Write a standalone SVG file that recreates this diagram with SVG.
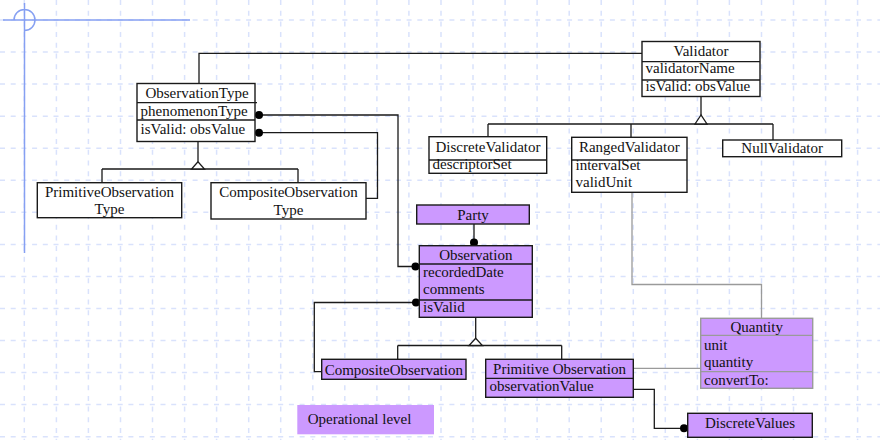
<svg xmlns="http://www.w3.org/2000/svg" width="880" height="440" viewBox="0 0 880 440">
  <style>
    .grid { fill: none; stroke: #d9e2fc; stroke-width: 1.5; stroke-dasharray: 5 5.7; }
    .guide { fill: none; stroke: #86a0f2; stroke-width: 1.5; }
    .box { fill: #ffffff; stroke: #1a1a1a; stroke-width: 1.4; }
    .op { fill: #cc99ff; stroke: #1a1a1a; stroke-width: 1.4; }
    .qty { fill: #cc99ff; stroke: #9a9a9a; stroke-width: 1.4; }
    .div { stroke: #1a1a1a; stroke-width: 1.3; }
    .divq { stroke: #9a9a9a; stroke-width: 1.3; }
    .link { fill: none; stroke: #1a1a1a; stroke-width: 1.3; }
    .glink { fill: none; stroke: #9a9a9a; stroke-width: 1.3; }
    .gen { fill: #ffffff; stroke: #1a1a1a; stroke-width: 1.3; }
    .dot { fill: #000000; }
    text { font-family: "Liberation Serif", "Times New Roman", serif; font-size: 15px; fill: #111111; }
    .c { text-anchor: middle; }
  </style>

  <!-- background grid -->
  <rect x="0" y="0" width="880" height="440" fill="#ffffff"/>
  <path class="grid" d="M24.3,0V440 M56.4,0V440 M88.4,0V440 M120.5,0V440 M152.5,0V440 M184.6,0V440 M216.6,0V440 M248.7,0V440 M280.7,0V440 M312.8,0V440 M344.8,0V440 M376.9,0V440 M408.9,0V440 M441,0V440 M473,0V440 M505.1,0V440 M537.1,0V440 M569.2,0V440 M601.2,0V440 M633.3,0V440 M665.3,0V440 M697.4,0V440 M729.4,0V440 M761.5,0V440 M793.5,0V440 M825.6,0V440 M857.6,0V440"/>
  <path class="grid" d="M0,20H880 M0,52.1H880 M0,84.1H880 M0,116.2H880 M0,148.2H880 M0,180.3H880 M0,212.3H880 M0,244.4H880 M0,276.4H880 M0,308.5H880 M0,340.5H880 M0,372.6H880 M0,404.6H880 M0,436.7H880"/>

  <!-- page guides -->
  <path class="guide" d="M3,20H190 M24.5,3V253 M14,20A10.5,10.5 0 1 1 24.5,30.5"/>

  <!-- connectors -->
  <g id="connectors">
    <path class="link" d="M199,83.5V53.3H642"/>
    <path class="link" d="M701,96.5V115 M488,124H773 M488,124V136.7 M631,124V137.3 M773,124V140"/>
    <polygon class="gen" points="701,115 695,124 707,124"/>
    <path class="link" d="M198,141.5V161.7 M102,169H298 M102,169V182.7 M298,169V182.7"/>
    <polygon class="gen" points="198,161.7 191.5,169 204.5,169"/>
    <path class="link" d="M259,115H398V266.5H416"/>
    <circle class="dot" cx="259" cy="115" r="4"/>
    <circle class="dot" cx="415.5" cy="266.5" r="4"/>
    <path class="link" d="M259,132.7H377.5V198.3H366"/>
    <circle class="dot" cx="259" cy="132.7" r="4"/>
    <path class="link" d="M474,224V243"/>
    <circle class="dot" cx="474" cy="242.5" r="4"/>
    <path class="link" d="M416,302.5H314.3V371.7H321.7"/>
    <circle class="dot" cx="416" cy="302.5" r="4"/>
    <path class="link" d="M475.7,317.3V338.3 M397.7,345.5H561.7 M397.7,345.5V359.3 M561.7,345.5V359.3"/>
    <polygon class="gen" points="475.7,338.3 469,345.5 482.4,345.5"/>
    <path class="link" d="M633.3,389.3H654.3V428.3H684"/>
    <circle class="dot" cx="684" cy="428.3" r="4"/>
    <path class="glink" d="M632,192.3V284.5H761.5V318.3"/>
    <path class="glink" d="M633.3,368.3H700.7"/>
  </g>

  <!-- type level -->
  <g id="observation-type">
    <rect class="box" x="137" y="83.5" width="118" height="58"/>
    <line class="div" x1="137" y1="102.7" x2="257" y2="102.7"/>
    <line class="div" x1="137" y1="120" x2="255" y2="120"/>
    <text class="c" x="197" y="98.3">ObservationType</text>
    <text x="140.5" y="116">phenomenonType</text>
    <text x="140.5" y="133.5">isValid: obsValue</text>
  </g>

  <g id="validator">
    <rect class="box" x="642" y="41.5" width="118" height="55"/>
    <line class="div" x1="642" y1="61.7" x2="760" y2="61.7"/>
    <line class="div" x1="642" y1="80" x2="760" y2="80"/>
    <text class="c" x="701" y="55.5">Validator</text>
    <text x="645.5" y="72.5">validatorName</text>
    <text x="645.5" y="90.5">isValid: obsValue</text>
  </g>

  <g id="discrete-validator">
    <rect class="box" x="429" y="136.7" width="117.7" height="36.6"/>
    <line class="div" x1="429" y1="160" x2="546.7" y2="160"/>
    <text class="c" x="488" y="152">DiscreteValidator</text>
    <text x="432.5" y="168.5">descriptorSet</text>
  </g>

  <g id="ranged-validator">
    <rect class="box" x="571.7" y="137.3" width="115.3" height="55"/>
    <line class="div" x1="571.7" y1="160" x2="687" y2="160"/>
    <text class="c" x="629.3" y="152">RangedValidator</text>
    <text x="575.5" y="170">intervalSet</text>
    <text x="575.5" y="187">validUnit</text>
  </g>

  <g id="null-validator">
    <rect class="box" x="722.7" y="140" width="119" height="16.7"/>
    <text class="c" x="782.2" y="152.5">NullValidator</text>
  </g>

  <g id="primitive-observation-type">
    <rect class="box" x="37.3" y="182.7" width="144.4" height="35"/>
    <text class="c" x="109.5" y="197">PrimitiveObservation</text>
    <text class="c" x="109.5" y="214.3">Type</text>
  </g>

  <g id="composite-observation-type">
    <rect class="box" x="211" y="182.7" width="155" height="36.3"/>
    <text class="c" x="288.5" y="197">CompositeObservation</text>
    <text class="c" x="288.5" y="214.8">Type</text>
  </g>

  <!-- operational level -->
  <g id="party">
    <rect class="op" x="416.7" y="205" width="112.6" height="19"/>
    <text class="c" x="473" y="219.5">Party</text>
  </g>

  <g id="observation">
    <rect class="op" x="419.3" y="245.7" width="113" height="71.6"/>
    <line class="div" x1="419.3" y1="264" x2="532.3" y2="264"/>
    <line class="div" x1="419.3" y1="300" x2="532.3" y2="300"/>
    <text class="c" x="475.8" y="260.3">Observation</text>
    <text x="423" y="276.5">recordedDate</text>
    <text x="423" y="293.5">comments</text>
    <text x="423" y="312">isValid</text>
  </g>

  <g id="composite-observation">
    <rect class="op" x="321.7" y="359.3" width="144.3" height="20"/>
    <text class="c" x="393.8" y="374.5">CompositeObservation</text>
  </g>

  <g id="primitive-observation">
    <rect class="op" x="485.7" y="359.3" width="147.6" height="38"/>
    <line class="div" x1="485.7" y1="378.3" x2="633.3" y2="378.3"/>
    <text class="c" x="559.5" y="374.3">Primitive Observation</text>
    <text x="489.5" y="391">observationValue</text>
  </g>

  <g id="quantity">
    <rect class="qty" x="700.7" y="318.3" width="112" height="70"/>
    <line class="divq" x1="700.7" y1="335.3" x2="812.7" y2="335.3"/>
    <line class="divq" x1="700.7" y1="371.7" x2="812.7" y2="371.7"/>
    <text class="c" x="756.7" y="332">Quantity</text>
    <text x="704" y="350">unit</text>
    <text x="704" y="367">quantity</text>
    <text x="704" y="384.5">convertTo:</text>
  </g>

  <g id="discrete-values">
    <rect class="op" x="687.7" y="413.3" width="124.6" height="24"/>
    <text class="c" x="750" y="428">DiscreteValues</text>
  </g>

  <g id="operational-level">
    <rect x="297.3" y="405" width="136.7" height="29.3" fill="#cc99ff"/>
    <text x="307.7" y="423.5">Operational level</text>
  </g>
</svg>
